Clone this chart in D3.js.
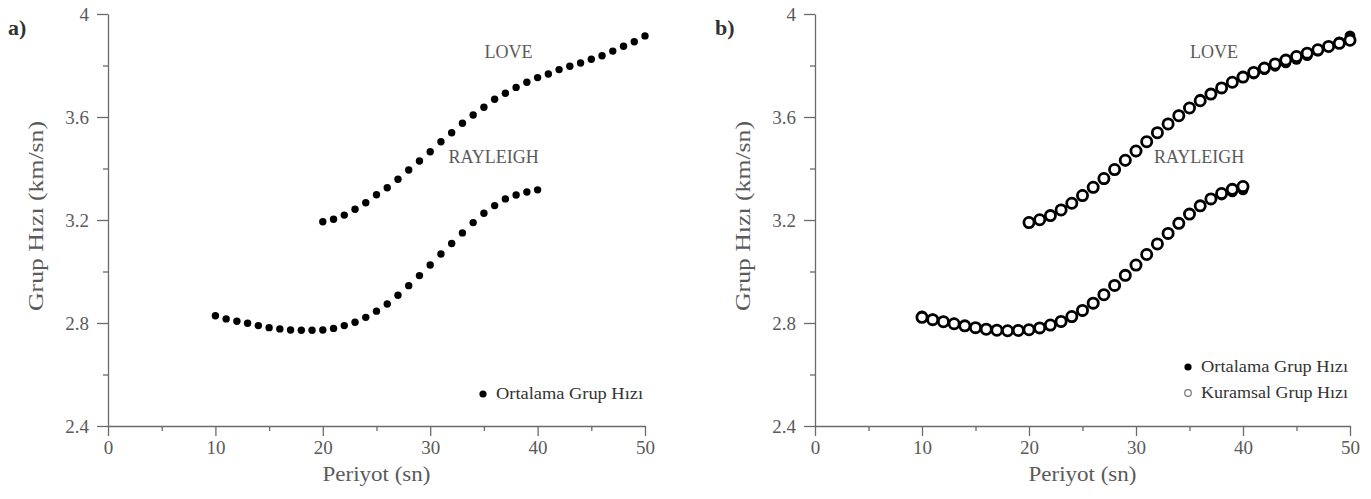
<!DOCTYPE html>
<html>
<head>
<meta charset="utf-8">
<script src="https://cdn.jsdelivr.net/npm/d3@7/dist/d3.min.js"></script>
<style>
  body { margin: 0; background: #fff; }
</style>
</head>
<body>
<div id="chart"></div>
<script>
// periods (sn)
var rayleighPeriods = [10, 11, 12, 13, 14, 15, 16, 17, 18, 19, 20, 21, 22, 23, 24, 25, 26, 27, 28, 29, 30, 31, 32, 33, 34, 35, 36, 37, 38, 39, 40];
var lovePeriods = [20, 21, 22, 23, 24, 25, 26, 27, 28, 29, 30, 31, 32, 33, 34, 35, 36, 37, 38, 39, 40, 41, 42, 43, 44, 45, 46, 47, 48, 49, 50];

// ortalama (observed mean) group velocities, km/sn
var rayleighMean = [2.828, 2.816, 2.807, 2.799, 2.790, 2.782, 2.777, 2.773, 2.772, 2.772, 2.773, 2.779, 2.790, 2.803, 2.822, 2.846,
  2.874, 2.908, 2.945, 2.984, 3.025, 3.068, 3.109, 3.150, 3.190, 3.226, 3.256, 3.282, 3.297, 3.309, 3.317];
var loveMean = [3.193, 3.203, 3.219, 3.242, 3.267, 3.298, 3.325, 3.358, 3.394, 3.429, 3.465, 3.504, 3.539, 3.576, 3.608, 3.638,
  3.669, 3.692, 3.715, 3.735, 3.753, 3.767, 3.784, 3.797, 3.810, 3.824, 3.838, 3.856, 3.875, 3.892, 3.915];

// kuramsal (theoretical) group velocities, km/sn
var rayleighTheo = [2.822, 2.813, 2.805, 2.797, 2.789, 2.782, 2.776, 2.772, 2.770, 2.771, 2.774, 2.781, 2.792, 2.806, 2.825, 2.849,
  2.877, 2.910, 2.946, 2.985, 3.025, 3.066, 3.107, 3.148, 3.187, 3.223, 3.255, 3.282, 3.303, 3.319, 3.330];
var loveTheo = [3.190, 3.201, 3.217, 3.239, 3.265, 3.295, 3.327, 3.361, 3.396, 3.432, 3.468, 3.504, 3.539, 3.573, 3.605, 3.635,
  3.663, 3.689, 3.713, 3.735, 3.755, 3.773, 3.790, 3.806, 3.821, 3.835, 3.848, 3.861, 3.874, 3.886, 3.898];

var xTicks = [0, 10, 20, 30, 40, 50];
var xMinorTicks = [5, 15, 25, 35, 45];
var yTicks = [2.4, 2.8, 3.2, 3.6, 4];
var yMinorTicks = [2.6, 3.0, 3.4, 3.8];

var xTitle = "Periyot (sn)";
var yTitle = "Grup Hızı (km/sn)";
var legendMean = "Ortalama Grup Hızı";
var legendTheo = "Kuramsal Grup Hızı";

var width = 1371, height = 499;
var serif = "'Liberation Serif', 'Times New Roman', Times, serif";
var textColor = "#5a5a5a";
var axisColor = "#6a6a6a";

var svg = d3.select("#chart").append("svg")
  .attr("width", width)
  .attr("height", height);

svg.append("rect").attr("width", width).attr("height", height).attr("fill", "#fff");

function zip(xs, ys) {
  return xs.map(function (d, i) { return { x: d, y: ys[i] }; });
}

function drawPanel(p) {
  var x = d3.scaleLinear().domain([0, 50]).range([p.left, p.right]);
  var y = d3.scaleLinear().domain([2.4, 4]).range([426, 14]);

  var g = svg.append("g").attr("font-family", serif);

  // minor ticks
  g.append("g")
    .attr("transform", "translate(0,426)")
    .call(d3.axisBottom(x).tickValues(xMinorTicks).tickSize(5).tickFormat(""))
    .call(function (s) { s.select(".domain").remove(); });
  g.append("g")
    .attr("transform", "translate(" + p.left + ",0)")
    .call(d3.axisLeft(y).tickValues(yMinorTicks).tickSize(5).tickFormat(""))
    .call(function (s) { s.select(".domain").remove(); });

  // major axes
  g.append("g")
    .attr("transform", "translate(0,426)")
    .call(d3.axisBottom(x).tickValues(xTicks).tickSize(10).tickSizeOuter(0).tickPadding(5));
  g.append("g")
    .attr("transform", "translate(" + p.left + ",0)")
    .call(d3.axisLeft(y).tickValues(yTicks).tickSize(11).tickSizeOuter(0).tickPadding(8)
      .tickFormat(function (d) { return d === 4 ? "4" : d3.format(".1f")(d); }));

  g.selectAll("g").attr("font-family", serif);
  g.selectAll(".tick line, .domain").attr("stroke", axisColor).attr("stroke-width", 1.3);
  g.selectAll(".tick text").attr("fill", textColor).attr("font-size", 19).attr("font-family", serif);

  // axis titles
  g.append("text")
    .attr("x", (p.left + p.right) / 2)
    .attr("y", 481)
    .attr("text-anchor", "middle")
    .attr("fill", textColor)
    .attr("font-size", 21)
    .attr("textLength", 108)
    .attr("lengthAdjust", "spacingAndGlyphs")
    .text(xTitle);
  g.append("text")
    .attr("transform", "translate(" + (p.left - 65) + ",216) rotate(-90)")
    .attr("text-anchor", "middle")
    .attr("fill", textColor)
    .attr("font-size", 20)
    .attr("textLength", 190)
    .attr("lengthAdjust", "spacingAndGlyphs")
    .text(yTitle);

  // panel letter
  g.append("text")
    .attr("x", p.left - 100)
    .attr("y", 35)
    .attr("fill", "#333")
    .attr("font-size", 22)
    .attr("font-weight", "bold")
    .text(p.letter);

  // curve names
  g.append("text")
    .attr("x", x(p.loveLabel[0])).attr("y", y(p.loveLabel[1]))
    .attr("text-anchor", "middle").attr("fill", textColor)
    .attr("font-size", 18)
    .text("LOVE");
  g.append("text")
    .attr("x", x(p.rayLabel[0])).attr("y", y(p.rayLabel[1]))
    .attr("text-anchor", "middle").attr("fill", textColor)
    .attr("font-size", 18)
    .text("RAYLEIGH");

  // observed dots
  var mean = zip(rayleighPeriods, rayleighMean).concat(zip(lovePeriods, loveMean));
  g.selectAll(".dot")
    .data(mean)
    .enter().append("circle")
    .attr("class", "dot")
    .attr("r", p.theo ? 5.4 : 3.7)
    .attr("cx", function (d) { return x(d.x); })
    .attr("cy", function (d) { return y(d.y); })
    .attr("fill", "#000");

  // theoretical circles
  if (p.theo) {
    var theo = zip(rayleighPeriods, rayleighTheo).concat(zip(lovePeriods, loveTheo));
    g.selectAll(".theo")
      .data(theo)
      .enter().append("circle")
      .attr("class", "theo")
      .attr("r", 5.1)
      .attr("cx", function (d) { return x(d.x); })
      .attr("cy", function (d) { return y(d.y); })
      .attr("fill", "#fff")
      .attr("stroke", "#000")
      .attr("stroke-width", 2.8);
  }

  // legend
  var items = p.theo ? [legendMean, legendTheo] : [legendMean];
  var ly = p.theo ? 367 : 394;
  items.forEach(function (t, i) {
    var yy = ly + i * 26;
    var lx = p.right - 162;
    if (i === 0) {
      g.append("circle").attr("cx", lx).attr("cy", yy).attr("r", 3.6).attr("fill", "#000");
    } else {
      g.append("circle").attr("cx", lx).attr("cy", yy).attr("r", 3.3)
        .attr("fill", "#fff").attr("stroke", "#777").attr("stroke-width", 1.2);
    }
    g.append("text")
      .attr("x", lx + 13).attr("y", yy + 5)
      .attr("fill", "#333")
      .attr("font-size", 16)
      .attr("textLength", 147)
      .attr("lengthAdjust", "spacingAndGlyphs")
      .text(t);
  });
}

drawPanel({ left: 108, right: 645, letter: "a)", theo: false, loveLabel: [37.3, 3.83], rayLabel: [35.9, 3.42] });
drawPanel({ left: 815, right: 1350, letter: "b)", theo: true, loveLabel: [37.3, 3.83], rayLabel: [35.9, 3.42] });
</script>
</body>
</html>
